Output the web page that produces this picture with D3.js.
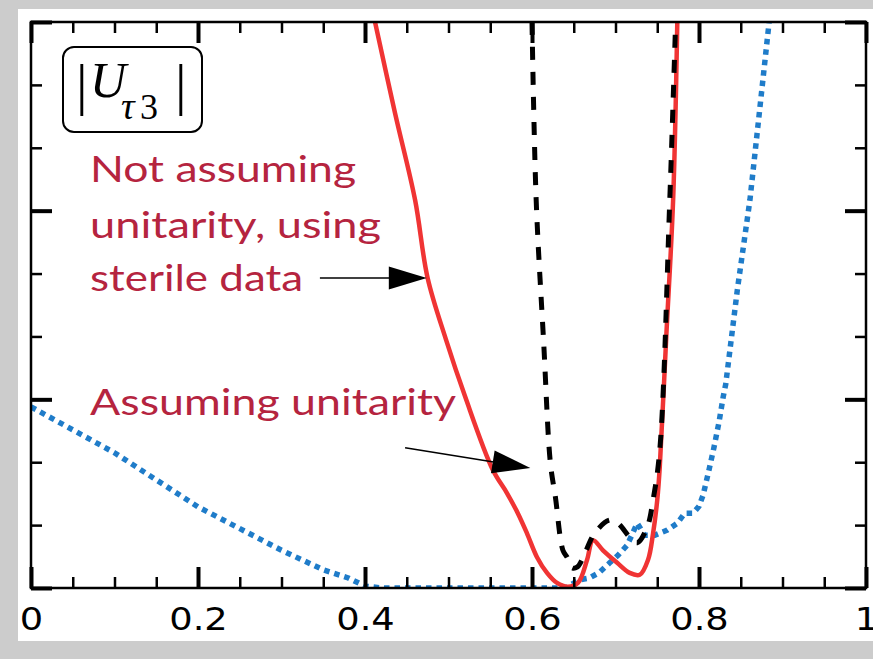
<!DOCTYPE html>
<html>
<head>
<meta charset="utf-8">
<script src="https://cdn.jsdelivr.net/npm/d3@7"></script>
<style>
  html, body { margin: 0; padding: 0; background: #cccccc; }
  svg { display: block; }
</style>
</head>
<body>
<svg id="chart" width="873" height="659"></svg>
<script>
// ---------- data ----------
const xMajorTicks = [0, 0.2, 0.4, 0.6, 0.8, 1];
const xTickLabels = ["0", "0.2", "0.4", "0.6", "0.8", "1"];
const xMinorTicks = d3.range(0, 1.0001, 0.05);
const yMajorTicks = [0, 3, 6, 9];
const yMinorTicks = d3.range(0, 9.001, 1);

// blue dotted curve
const blueX = [0, 0.1, 0.2, 0.3, 0.35, 0.38, 0.40, 0.42, 0.64, 0.657, 0.669, 0.681, 0.693, 0.703, 0.714, 0.726, 0.735, 0.747, 0.762, 0.774, 0.783, 0.793, 0.800, 0.805, 0.812, 0.818, 0.824, 0.829, 0.832, 0.846, 0.861, 0.884];
const blueY = [2.88, 2.15, 1.29, 0.60, 0.29, 0.16, 0.03, 0, 0, 0.13, 0.16, 0.25, 0.40, 0.52, 0.68, 1.03, 0.84, 0.84, 0.92, 1.03, 1.19, 1.19, 1.30, 1.48, 1.88, 2.24, 2.64, 3.04, 3.24, 4.75, 6.17, 9.0];

// red solid curve (not assuming unitarity, using sterile data)
const redX = [0.412, 0.436, 0.460, 0.475, 0.497, 0.520, 0.553, 0.570, 0.583, 0.594, 0.606, 0.618, 0.630, 0.643, 0.655, 0.666, 0.673, 0.685, 0.702, 0.717, 0.729, 0.739, 0.745, 0.750, 0.753, 0.761, 0.769, 0.774];
const redY = [9.0, 7.55, 6.17, 4.93, 3.95, 3.04, 1.88, 1.51, 1.19, 0.87, 0.49, 0.24, 0.08, 0.02, 0.08, 0.45, 0.76, 0.60, 0.40, 0.24, 0.21, 0.45, 0.87, 1.40, 1.92, 4.05, 6.17, 9.0];

// black dashed curve (assuming unitarity)
const blackX = [0.600, 0.605, 0.614, 0.622, 0.628, 0.637, 0.642, 0.648, 0.654, 0.660, 0.675, 0.693, 0.703, 0.717, 0.726, 0.738, 0.745, 0.753, 0.765, 0.772];
const blackY = [9.0, 6.17, 3.9, 1.99, 1.45, 0.60, 0.49, 0.32, 0.33, 0.45, 0.87, 1.08, 1.03, 0.81, 0.72, 0.97, 1.40, 2.19, 6.17, 9.0];

// annotations (data coordinates)
const labelLines1 = ["Not assuming", "unitarity, using", "sterile data"];
const labelLines1Y = [6.45, 5.56, 4.73];
const labelLines1W = [266, 291, 213];
const labelText2 = "Assuming unitarity";
const arrow1 = {x0: 0.346, y0: 4.93, x1: 0.474, y1: 4.93};
const arrow2 = {x0: 0.448, y0: 2.23, x1: 0.598, y1: 1.91};

// ---------- layout ----------
const svg = d3.select("#chart");
const W = 873, H = 659;
const plot = {left: 31, right: 866, top: 22, bottom: 588};

svg.append("rect").attr("x", 0).attr("y", 0).attr("width", W).attr("height", H).attr("fill", "#cccccc");
svg.append("rect").attr("x", 18).attr("y", 9).attr("width", W - 18).attr("height", 632).attr("fill", "#ffffff");

const x = d3.scaleLinear().domain([0, 1]).range([plot.left, plot.right]);
const y = d3.scaleLinear().domain([0, 9]).range([plot.bottom, plot.top]);

svg.append("defs").append("clipPath").attr("id", "clip")
  .append("rect").attr("x", plot.left).attr("y", plot.top)
  .attr("width", plot.right - plot.left).attr("height", plot.bottom - plot.top);

// ---------- curves ----------
const g = svg.append("g").attr("clip-path", "url(#clip)");
const toPts = (xs, ys) => xs.map((v, i) => [v, ys[i]]);

const lineLin = d3.line().x(d => x(d[0])).y(d => y(d[1])).curve(d3.curveLinear);
const lineSmooth = d3.line().x(d => x(d[0])).y(d => y(d[1])).curve(d3.curveCatmullRom.alpha(0.5));

g.append("path").datum(toPts(blueX, blueY)).attr("d", lineLin)
  .attr("fill", "none").attr("stroke", "#1f7cc9").attr("stroke-width", 5.5)
  .attr("stroke-dasharray", "5.5,5");

g.append("path").datum(toPts(redX, redY)).attr("d", lineSmooth)
  .attr("fill", "none").attr("stroke", "#f03434").attr("stroke-width", 4.5)
  .attr("stroke-linejoin", "round");

g.append("path").datum(toPts(blackX, blackY)).attr("d", lineSmooth)
  .attr("fill", "none").attr("stroke", "#000000").attr("stroke-width", 5)
  .attr("stroke-dasharray", "13,12");

// ---------- axes ----------
function styleAxis(sel, width) {
  sel.select(".domain").remove();
  sel.selectAll(".tick line").attr("stroke", "#000").attr("stroke-width", width);
}
// bottom major with labels
const bMaj = svg.append("g").attr("transform", `translate(0,${plot.bottom})`)
  .call(d3.axisBottom(x).tickValues(xMajorTicks).tickSize(-21).tickFormat((d, i) => xTickLabels[i]));
styleAxis(bMaj, 4);
bMaj.selectAll(".tick text")
  .attr("y", 42).attr("dy", 0)
  .attr("fill", "#000")
  .style("font-family", "DejaVu Sans")
  .style("font-size", "32px")
  .attr("transform", "scale(1.15,1)");
const bMin = svg.append("g").attr("transform", `translate(0,${plot.bottom})`)
  .call(d3.axisBottom(x).tickValues(xMinorTicks).tickSize(-11).tickFormat(""));
styleAxis(bMin, 2.5);

// top
const tMaj = svg.append("g").attr("transform", `translate(0,${plot.top})`)
  .call(d3.axisTop(x).tickValues(xMajorTicks).tickSize(-21).tickFormat(""));
styleAxis(tMaj, 4);
const tMin = svg.append("g").attr("transform", `translate(0,${plot.top})`)
  .call(d3.axisTop(x).tickValues(xMinorTicks).tickSize(-11).tickFormat(""));
styleAxis(tMin, 2.5);

// left
const lMaj = svg.append("g").attr("transform", `translate(${plot.left},0)`)
  .call(d3.axisLeft(y).tickValues(yMajorTicks).tickSize(-21).tickFormat(""));
styleAxis(lMaj, 4);
const lMin = svg.append("g").attr("transform", `translate(${plot.left},0)`)
  .call(d3.axisLeft(y).tickValues(yMinorTicks).tickSize(-11).tickFormat(""));
styleAxis(lMin, 2.5);

// right
const rMaj = svg.append("g").attr("transform", `translate(${plot.right},0)`)
  .call(d3.axisRight(y).tickValues(yMajorTicks).tickSize(-21).tickFormat(""));
styleAxis(rMaj, 4);
const rMin = svg.append("g").attr("transform", `translate(${plot.right},0)`)
  .call(d3.axisRight(y).tickValues(yMinorTicks).tickSize(-11).tickFormat(""));
styleAxis(rMin, 2.5);

// frame
svg.append("rect").attr("x", plot.left).attr("y", plot.top)
  .attr("width", plot.right - plot.left).attr("height", plot.bottom - plot.top)
  .attr("fill", "none").attr("stroke", "#000").attr("stroke-width", 2.5);

// ---------- label box |U_tau3| ----------
const box = svg.append("g");
box.append("rect").attr("x", 63).attr("y", 47).attr("width", 139).attr("height", 85)
  .attr("rx", 11).attr("fill", "#fff").attr("stroke", "#000").attr("stroke-width", 2);
const mathT = box.append("text").attr("y", 104)
  .style("font-family", "Liberation Serif");
mathT.append("tspan").attr("x", 76).attr("y", 104).style("font-size", "58px").text("|");
mathT.append("tspan").attr("x", 90).attr("y", 97).style("font-style", "italic").style("font-size", "50px").text("U");
mathT.append("tspan").attr("x", 121).attr("y", 119).style("font-style", "italic").style("font-size", "38px").text("τ");
mathT.append("tspan").attr("x", 140).attr("y", 119).style("font-size", "36px").text("3");
mathT.append("tspan").attr("x", 175).attr("y", 104).style("font-size", "58px").text("|");

// ---------- annotations ----------
const red = "#b5243f";
labelLines1.forEach((t, i) => {
  svg.append("text").attr("x", x(0.0707)).attr("y", y(labelLines1Y[i]))
    .attr("textLength", labelLines1W[i]).attr("lengthAdjust", "spacingAndGlyphs")
    .attr("fill", red).style("font-family", "Lato").style("font-size", "37px").text(t);
});
svg.append("text").attr("x", x(0.0707)).attr("y", y(2.75))
  .attr("textLength", 366).attr("lengthAdjust", "spacingAndGlyphs")
  .attr("fill", red).style("font-family", "Lato").style("font-size", "37px").text(labelText2);

function arrow(a) {
  const X0 = x(a.x0), Y0 = y(a.y0), X1 = x(a.x1), Y1 = y(a.y1);
  const ang = Math.atan2(Y1 - Y0, X1 - X0);
  const L = 38, hw = 11.5;
  const bx = X1 - L * Math.cos(ang), by = Y1 - L * Math.sin(ang);
  svg.append("line").attr("x1", X0).attr("y1", Y0).attr("x2", bx + 4 * Math.cos(ang)).attr("y2", by + 4 * Math.sin(ang))
    .attr("stroke", "#000").attr("stroke-width", 1.5);
  const p = [
    [X1, Y1],
    [bx - hw * Math.sin(ang), by + hw * Math.cos(ang)],
    [bx + hw * Math.sin(ang), by - hw * Math.cos(ang)]
  ];
  svg.append("path").attr("d", "M" + p.map(q => q.join(",")).join("L") + "Z").attr("fill", "#000");
}
arrow(arrow1);
arrow(arrow2);
</script>
</body>
</html>
